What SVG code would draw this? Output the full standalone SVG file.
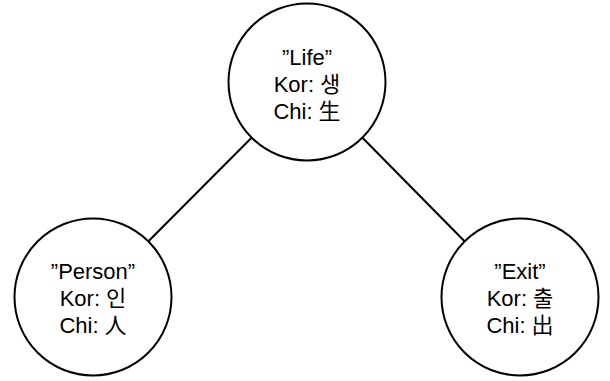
<svg xmlns="http://www.w3.org/2000/svg" width="610" height="381" viewBox="0 0 610 381">
<style>
.node circle{fill:#fff;stroke:#000;stroke-width:2}
.node text{font-family:"Liberation Sans","Noto Sans CJK KR",sans-serif;font-size:22px;fill:#000;text-anchor:middle}
.edges line{stroke:#000;stroke-width:2}
</style>
<rect width="610" height="381" fill="#fff"/>
<g class="edges" id="connectors">
<line x1="251.3" y1="138" x2="148.7" y2="241"/>
<line x1="362.7" y1="138" x2="464.3" y2="241"/>
</g>
<g class="node" id="life">
<circle cx="307" cy="82" r="78.5"/>
<text x="307" y="65">”Life”</text>
<text x="307" y="92">Kor: 생</text>
<text x="307" y="119">Chi: 生</text>
</g>
<g class="node" id="person">
<circle cx="93" cy="297" r="78.5"/>
<text x="93" y="279">”Person”</text>
<text x="93" y="306">Kor: 인</text>
<text x="93" y="333">Chi: 人</text>
</g>
<g class="node" id="exit">
<circle cx="520" cy="297" r="78.5"/>
<text x="520" y="279">”Exit”</text>
<text x="520" y="306">Kor: 출</text>
<text x="520" y="333">Chi: 出</text>
</g>
</svg>
